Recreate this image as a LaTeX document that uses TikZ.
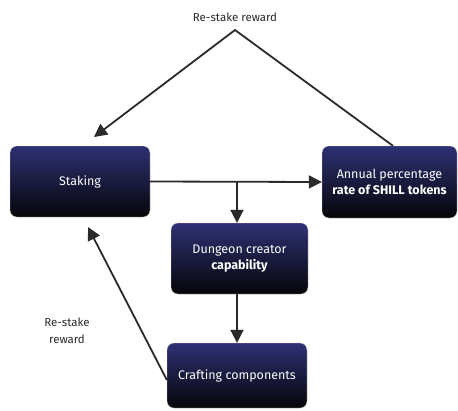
\documentclass[tikz,border=0pt]{standalone}
\usepackage{fontspec}
\setmainfont{Fira Sans}
\usetikzlibrary{arrows.meta}
\definecolor{boxtop}{HTML}{2E3173}
\definecolor{boxbot}{HTML}{050508}
\definecolor{labelgray}{HTML}{2A2A2A}
\tikzset{
	stepbox/.style={rounded corners=7pt, top color=boxtop, bottom color=boxbot, draw=gray!40, line width=0.3pt, text=white, align=center, inner sep=0pt, font=\fontsize{12.5}{16}\selectfont},
	flow/.style={line width=1.8pt, color=labelgray, -{Triangle[length=13pt,width=13pt]}},
	note/.style={text=labelgray, align=center, font=\fontsize{11.5}{17}\selectfont}
}

\begin{document}
\begin{tikzpicture}[x=1pt, y=-1pt]
		%%%%% START %%%%%
		
		\useasboundingbox (0, 0) rectangle (458, 410);
		
		\node[stepbox, minimum width=140pt, minimum height=71pt] (staking) at (80, 181.5) {Staking};
		\node[stepbox, minimum width=135pt, minimum height=72pt] (annual) at (389.5, 182) {Annual percentage\\\textbf{rate of SHILL tokens}};
		\node[stepbox, minimum width=137pt, minimum height=71pt] (dungeon) at (239.5, 258.5) {Dungeon creator\\\textbf{capability}};
		\node[stepbox, minimum width=140pt, minimum height=65pt] (crafting) at (237, 375.5) {Crafting components};
		
		\coordinate (split) at (237, 181.5);
		\coordinate (peak) at (235, 30);
		\coordinate (stakingtop) at (94, 137);
		\coordinate (stakingbot) at (88, 227);
		
		\draw[flow] (staking.east) -- (annual.west);
		\draw[flow] (split) -- (split |- dungeon.north);
		\draw[flow] (split |- dungeon.south) -- (split |- crafting.north);
		
		\draw[flow] (annual.north -| 393, 0) -- (peak) -- (stakingtop);
		\draw[flow] (crafting.west |- 0, 380) -- (stakingbot);
		
		\node[note] (restaketop) at (235, 17) {Re-stake reward};
		\node[note] (restakeleft) at (67, 331) {Re-stake\\reward};
		
		%%%%% END %%%%%
	\end{tikzpicture}
\end{document}
